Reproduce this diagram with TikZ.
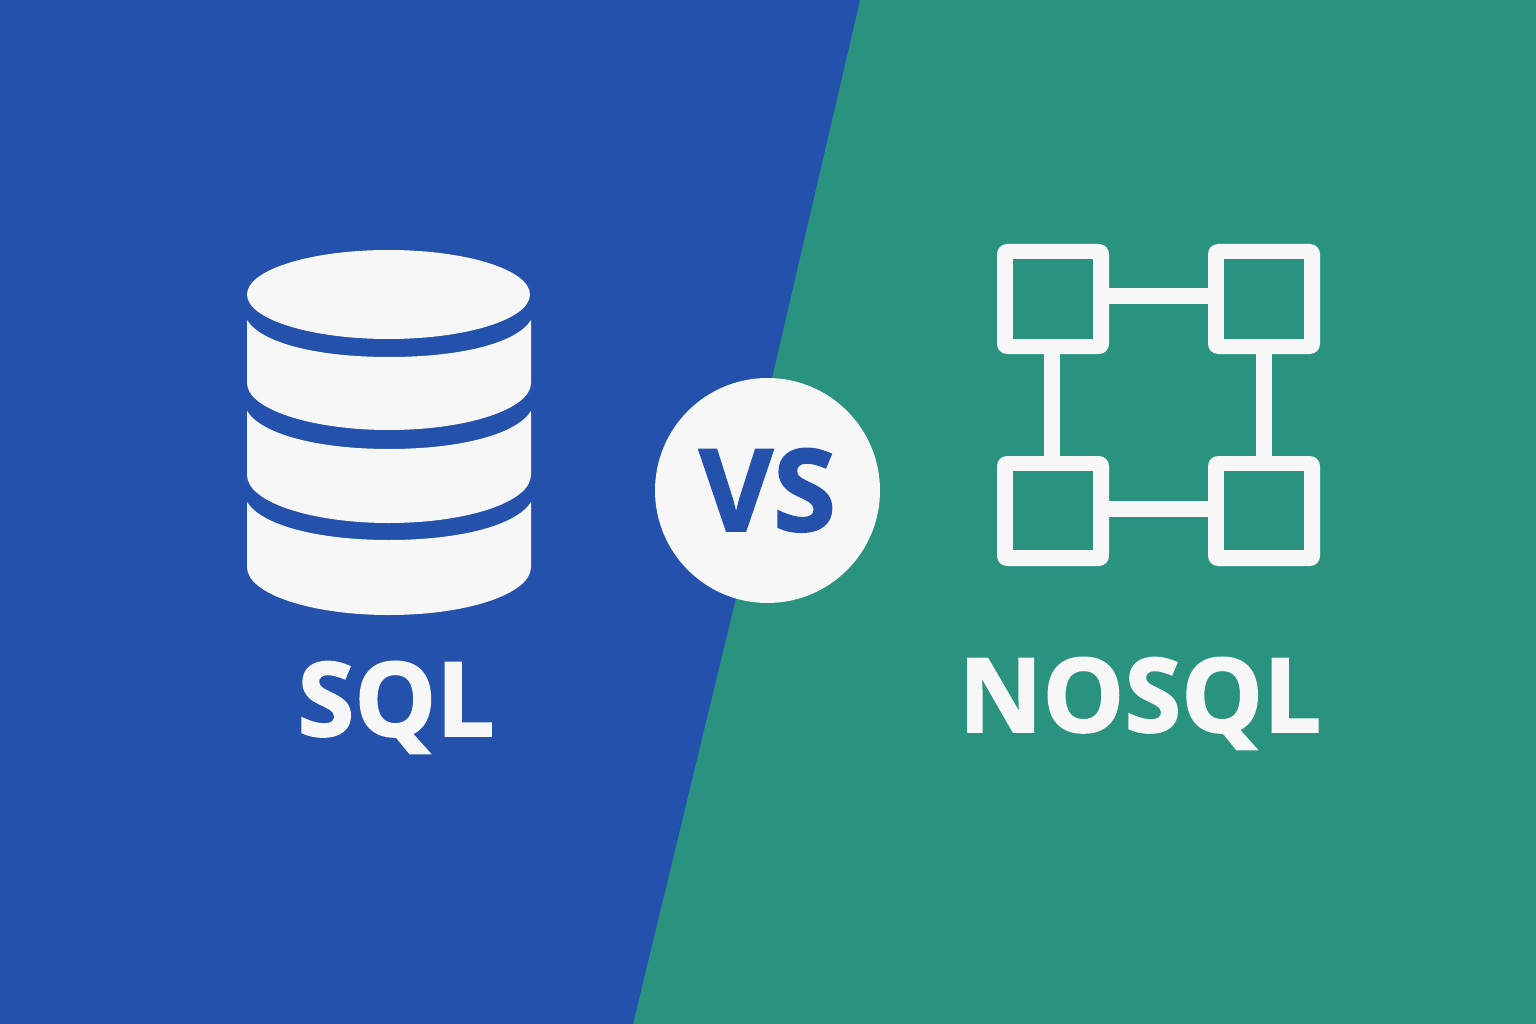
\documentclass[tikz,border=0pt]{standalone}
\usepackage{fontspec}
\setmainfont{Open Sans}[BoldFeatures={FakeBold=1.6}]
\definecolor{bluebg}{HTML}{2351AB}
\definecolor{greenbg}{HTML}{2A937F}
\definecolor{wht}{HTML}{F7F7F7}
\tikzset{
  px/.style={x=1pt,y=-1pt},
  label/.style={text=wht,font=\fontsize{103}{103}\selectfont\bfseries,inner sep=0pt,anchor=base},
  netbox/.style={fill=wht,rounded corners=10pt,minimum width=112pt,minimum height=110pt,inner sep=0pt},
  nethole/.style={fill=greenbg,minimum width=80pt,minimum height=79pt,inner sep=0pt},
  netlink/.style={draw=wht,line width=16pt}
}
\begin{document}
\begin{tikzpicture}[px]
\useasboundingbox (0,0) rectangle (1536,1024);
\fill[greenbg] (0,0) rectangle (1536,1024);
\fill[bluebg] (0,0) -- (860,0) -- (772,378) -- (735,602) -- (633,1024) -- (0,1024) -- cycle;
% cylinder
\fill[wht] (247,320) .. controls (262,344) and (320,357) .. (389,357) .. controls (458,357) and (516,344) .. (531,320)
  -- (531,383) .. controls (531,409) and (467,430) .. (389,430) .. controls (311,430) and (247,409) .. (247,383) -- cycle;
\fill[wht] (247,411) .. controls (262,435) and (320,449) .. (389,449) .. controls (458,449) and (516,435) .. (531,411)
  -- (531,475) .. controls (531,502) and (467,523) .. (389,523) .. controls (311,523) and (247,502) .. (247,475) -- cycle;
\fill[wht] (247,502) .. controls (262,526) and (320,540) .. (389,540) .. controls (458,540) and (516,526) .. (531,502)
  -- (531,567) .. controls (531,594) and (467,615) .. (389,615) .. controls (311,615) and (247,594) .. (247,567) -- cycle;
\fill[wht] (388.5,294.5) ellipse [x radius=141.5,y radius=44.5];
% VS
\node[circle,fill=wht,minimum size=225pt,inner sep=0pt] (vs) at (767.5,490.5) {};
\node[text=bluebg,font=\fontsize{114}{114}\selectfont\bfseries,inner sep=0pt,anchor=base] (vstext) at (767.5,531) {VS};
% network
\node[netbox] (a) at (1053,299) {};
\node[netbox] (b) at (1264,299) {};
\node[netbox] (c) at (1053,511) {};
\node[netbox] (d) at (1264,511) {};
\draw[netlink] ([yshift=3pt]a.east) -- ([yshift=3pt]b.west);
\draw[netlink] ([yshift=2pt]c.east) -- ([yshift=2pt]d.west);
\draw[netlink] ([xshift=-1pt]a.south) -- ([xshift=-1pt]c.north);
\draw[netlink] (b.south) -- (d.north);
\node[nethole] (ah) at (1053,299) {};
\node[nethole] (bh) at (1264,299) {};
\node[nethole] (ch) at (1053,510.5) {};
\node[nethole] (dh) at (1264,510.5) {};
% labels
\node[label] (sql) at (396,736) {SQL};
\node[label] (nosql) at (1140,732) {NOSQL};
\end{tikzpicture}
\end{document}
